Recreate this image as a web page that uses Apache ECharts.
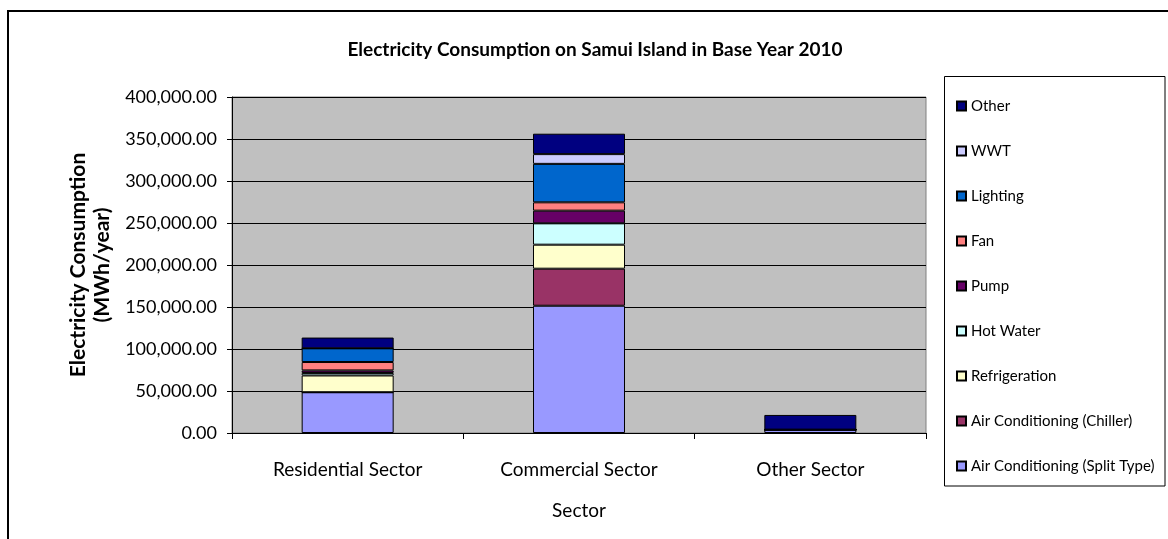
<!DOCTYPE html>
<html>
<head>
<meta charset="utf-8">
<script src="https://cdn.jsdelivr.net/npm/echarts@6/dist/echarts.min.js"></script>
<style>
  html, body { margin: 0; padding: 0; background: #fff; }
  #chart { width: 1168px; height: 539px; }
</style>
</head>
<body>
<div id="chart"></div>
<script>
// Sectors along the x axis
const categories = ['Residential Sector', 'Commercial Sector', 'Other Sector'];

// End-use consumption per sector (MWh/year), stacked bottom to top
const splitType     = [48500, 151500, 4000];
const chiller       = [0, 44100, 0];
const refrigeration = [20000, 28600, 0];
const hotWater      = [3000, 25400, 0];
const pump          = [3000, 15100, 0];
const fan           = [10000, 9900, 0];
const lighting      = [16300, 45800, 0];
const wwt           = [0, 11600, 0];
const other         = [12800, 24300, 17500];

const seriesNames = [
  'Air Conditioning (Split Type)', 'Air Conditioning (Chiller)', 'Refrigeration',
  'Hot Water', 'Pump', 'Fan', 'Lighting', 'WWT', 'Other'
];
const seriesValues = [splitType, chiller, refrigeration, hotWater, pump, fan, lighting, wwt, other];
const seriesColors = ['#9999FF', '#993366', '#FFFFCC', '#CCFFFF', '#660066', '#FF8080', '#0066CC', '#CCCCFF', '#000080'];

// Y axis ticks
const yMin = 0, yMax = 400000, yStep = 50000;

const FONT = 'Lato, "Open Sans", sans-serif';

const chart = echarts.init(document.getElementById('chart'), null, { renderer: 'canvas' });

const fmt = v => v.toLocaleString('en-US', { minimumFractionDigits: 2, maximumFractionDigits: 2 });

chart.setOption({
  backgroundColor: '#ffffff',
  animation: false,
  title: {
    text: 'Electricity Consumption on Samui Island in Base Year 2010',
    left: 590,
    top: 35,
    textAlign: 'center',
    textStyle: { fontFamily: FONT, fontSize: 19, fontWeight: 'bold', color: '#000' }
  },
  graphic: [
    {
      type: 'rect', silent: true, z: -1,
      shape: { x: 8, y: 11, width: 1200, height: 600 },
      style: { fill: 'none', stroke: '#000', lineWidth: 2 }
    },
    {
      type: 'rect', silent: true,
      shape: { x: 944.5, y: 76.5, width: 220.5, height: 409.5 },
      style: { fill: '#fff', stroke: '#000', lineWidth: 1 }
    }
  ],
  legend: {
    orient: 'vertical',
    left: 951,
    top: 92,
    itemWidth: 9,
    itemHeight: 9,
    itemGap: 27,
    icon: 'rect',
    z: 10,
    data: seriesNames.slice().reverse(),
    textStyle: { fontFamily: FONT, fontSize: 15, color: '#000', lineHeight: 18 }
  },
  grid: {
    left: 232, right: 242, top: 97, bottom: 106,
    show: true, backgroundColor: '#C0C0C0', borderColor: '#808080', borderWidth: 1
  },
  xAxis: {
    type: 'category',
    data: categories,
    name: 'Sector',
    nameLocation: 'middle',
    nameGap: 68,
    nameTextStyle: { fontFamily: FONT, fontSize: 19, color: '#000' },
    axisLine: { lineStyle: { color: '#000', width: 1 } },
    axisTick: { show: true, alignWithLabel: false, length: 6, lineStyle: { color: '#000' } },
    axisLabel: { margin: 27, fontFamily: FONT, fontSize: 19, color: '#000' }
  },
  yAxis: {
    type: 'value',
    min: yMin, max: yMax, interval: yStep,
    name: 'Electricity Consumption\n(MWh/year)',
    nameLocation: 'middle',
    nameRotate: 90,
    nameGap: 115,
    nameTextStyle: { fontFamily: FONT, fontSize: 21, fontWeight: 'bold', color: '#000', lineHeight: 24 },
    axisLine: { show: true, lineStyle: { color: '#000', width: 1 } },
    axisTick: { show: true, length: 5, lineStyle: { color: '#000' } },
    axisLabel: { margin: 15, fontFamily: FONT, fontSize: 18, color: '#000', formatter: fmt },
    splitLine: { show: true, lineStyle: { color: '#000', width: 1 } }
  },
  series: seriesNames.map((name, i) => ({
    name,
    type: 'bar',
    stack: 'total',
    barWidth: 92,
    data: seriesValues[i],
    itemStyle: { color: seriesColors[i], borderColor: '#000', borderWidth: 1 }
  }))
});
</script>
</body>
</html>
